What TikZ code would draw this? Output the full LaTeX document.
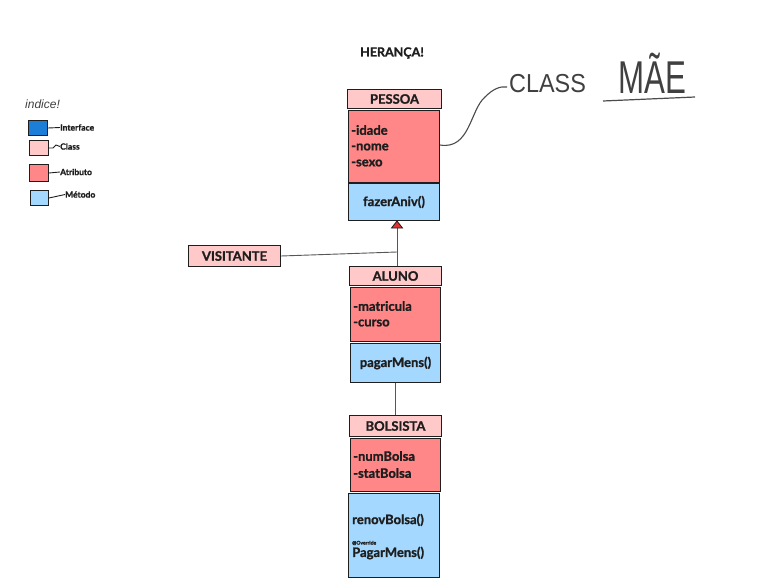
\documentclass[tikz,border=0pt]{standalone}
\usepackage{fontspec}
\setmainfont{Lato}[BoldFeatures={FakeBold=1.2}]
\newfontfamily\handfont{Liberation Sans}
\definecolor{hdrc}{HTML}{FFC9C9}
\definecolor{attrc}{HTML}{FF8787}
\definecolor{methc}{HTML}{A5D8FF}
\definecolor{ifacec}{HTML}{1C7ED6}
\definecolor{ink}{HTML}{1E1E1E}
\definecolor{tipc}{HTML}{E03131}
\begin{document}
\begin{tikzpicture}[x=1pt,y=-1pt,
  box/.style={draw=ink, line width=1pt, inner sep=0pt, anchor=north west, text=ink, font=\fontsize{13}{15}\selectfont\bfseries},
  hdr/.style={box, fill=hdrc},
  attr/.style={box, fill=attrc},
  meth/.style={box, fill=methc},
  txt/.style={anchor=west, inner sep=0pt, text=ink, font=\fontsize{13}{15}\selectfont\bfseries},
  leg/.style={anchor=west, inner sep=0pt, text=ink, font=\fontsize{8.5}{10}\selectfont\bfseries},
  legbox/.style={draw=ink, line width=1pt, anchor=north west, inner sep=0pt},
  conn/.style={draw=ink!75, line width=0.9pt},
  hand/.style={inner sep=0pt, text=ink!85, font=\handfont}
]
\useasboundingbox (0,0) rectangle (762,588);

% title
\node[inner sep=0pt, text=ink, font=\fontsize{12.5}{14}\selectfont\bfseries] (title) at (392,53) {HERANÇA!};

% legend
\node[hand, anchor=west, font=\handfont\fontsize{12}{14}\selectfont\itshape] (indice) at (25,104) {indice!};
\node[legbox, fill=ifacec, minimum width=19pt, minimum height=15pt] (lgI) at (28,120) {};
\node[legbox, fill=hdrc, minimum width=19pt, minimum height=15pt] (lgC) at (29,140) {};
\node[legbox, fill=attrc, minimum width=19pt, minimum height=17pt] (lgA) at (29,164) {};
\node[legbox, fill=methc, minimum width=18pt, minimum height=15pt] (lgM) at (30,190) {};
\node[leg] (ltI) at (60,127.5) {Interface};
\node[leg] (ltC) at (60,146.5) {Class};
\node[leg] (ltA) at (60,172) {Atributo};
\node[leg] (ltM) at (65,194.5) {Método};
\draw[conn, ink] (lgI.east) -- (ltI.west);
\draw[conn, ink] (lgC.east) -- ++(4,0) -- ++(3,-3) -- (ltC.west);
\draw[conn, ink] (lgA.east) -- (ltA.west);
\draw[conn, ink] (lgM.east) -- (ltM.west);

% PESSOA
\node[hdr, minimum width=94pt, minimum height=19pt] (pessoa) at (347,89) {PESSOA};
\node[attr, minimum width=91pt, minimum height=72pt] (pessoaA) at (348,110) {};
\node[txt] (pa1) at (351,130) {-idade};
\node[txt] (pa2) at (351,147) {-nome};
\node[txt] (pa3) at (351,163) {-sexo};
\node[meth, minimum width=91pt, minimum height=37pt] (pessoaM) at (348,183) {fazerAniv()};

% ALUNO
\node[hdr, minimum width=92pt, minimum height=19pt] (aluno) at (349,266) {ALUNO};
\node[attr, minimum width=90pt, minimum height=54pt] (alunoA) at (350,287) {};
\node[txt] (aa1) at (353,306) {-matricula};
\node[txt] (aa2) at (353,323) {-curso};
\node[meth, minimum width=90pt, minimum height=39pt] (alunoM) at (350,343) {pagarMens()};

% BOLSISTA
\node[hdr, minimum width=92pt, minimum height=21pt] (bolsista) at (349,415) {BOLSISTA};
\node[attr, minimum width=90pt, minimum height=53pt] (bolsistaA) at (350,438) {};
\node[txt] (ba1) at (353,456) {-numBolsa};
\node[txt] (ba2) at (353,473) {-statBolsa};
\node[meth, minimum width=91pt, minimum height=84pt] (bolsistaM) at (348,493) {};
\node[txt] (bm1) at (352,520) {renovBolsa()};
\node[anchor=west, inner sep=0pt, text=ink, font=\fontsize{5}{6}\selectfont\bfseries] (bm0) at (352,543) {@Override};
\node[txt] (bm2) at (352,553) {PagarMens()};

% VISITANTE
\node[hdr, minimum width=92pt, minimum height=21pt] (visit) at (188,245) {VISITANTE};

% inheritance
\coordinate (tip) at (397,221);
\coordinate (junc) at (397,252);
\draw[conn] (aluno.north -| tip) -- (tip);
\draw[conn] (visit.east) -- (junc);
\draw[draw=ink, line width=0.8pt, fill=tipc] (391.5,228) -- (tip) -- (402.5,228) -- cycle;
\draw[conn] (alunoM.south -| 395,0) -- (bolsista.north -| 395,0);

% CLASS MAE
\node[hand, anchor=south west, font=\handfont\fontsize{26}{28}\selectfont, xscale=0.9] (cls) at (509,93) {CLASS};
\node[hand, anchor=south west, font=\handfont\fontsize{46}{48}\selectfont, xscale=0.68] (mae) at (618,93.5) {MÃE};
\coordinate (ul1) at (603,101);
\coordinate (ul2) at (695,97);
\draw[conn, ink!80, line width=1.2pt] (ul1) -- (ul2);
\coordinate (curveEnd) at (507,87);
\draw[conn, ink!80, line width=1.1pt] (pessoaA.east |- 0,145) .. controls (470,150) and (470,110) .. (485,97) .. controls (493,89) and (500,86) .. (curveEnd);
\end{tikzpicture}
\end{document}
